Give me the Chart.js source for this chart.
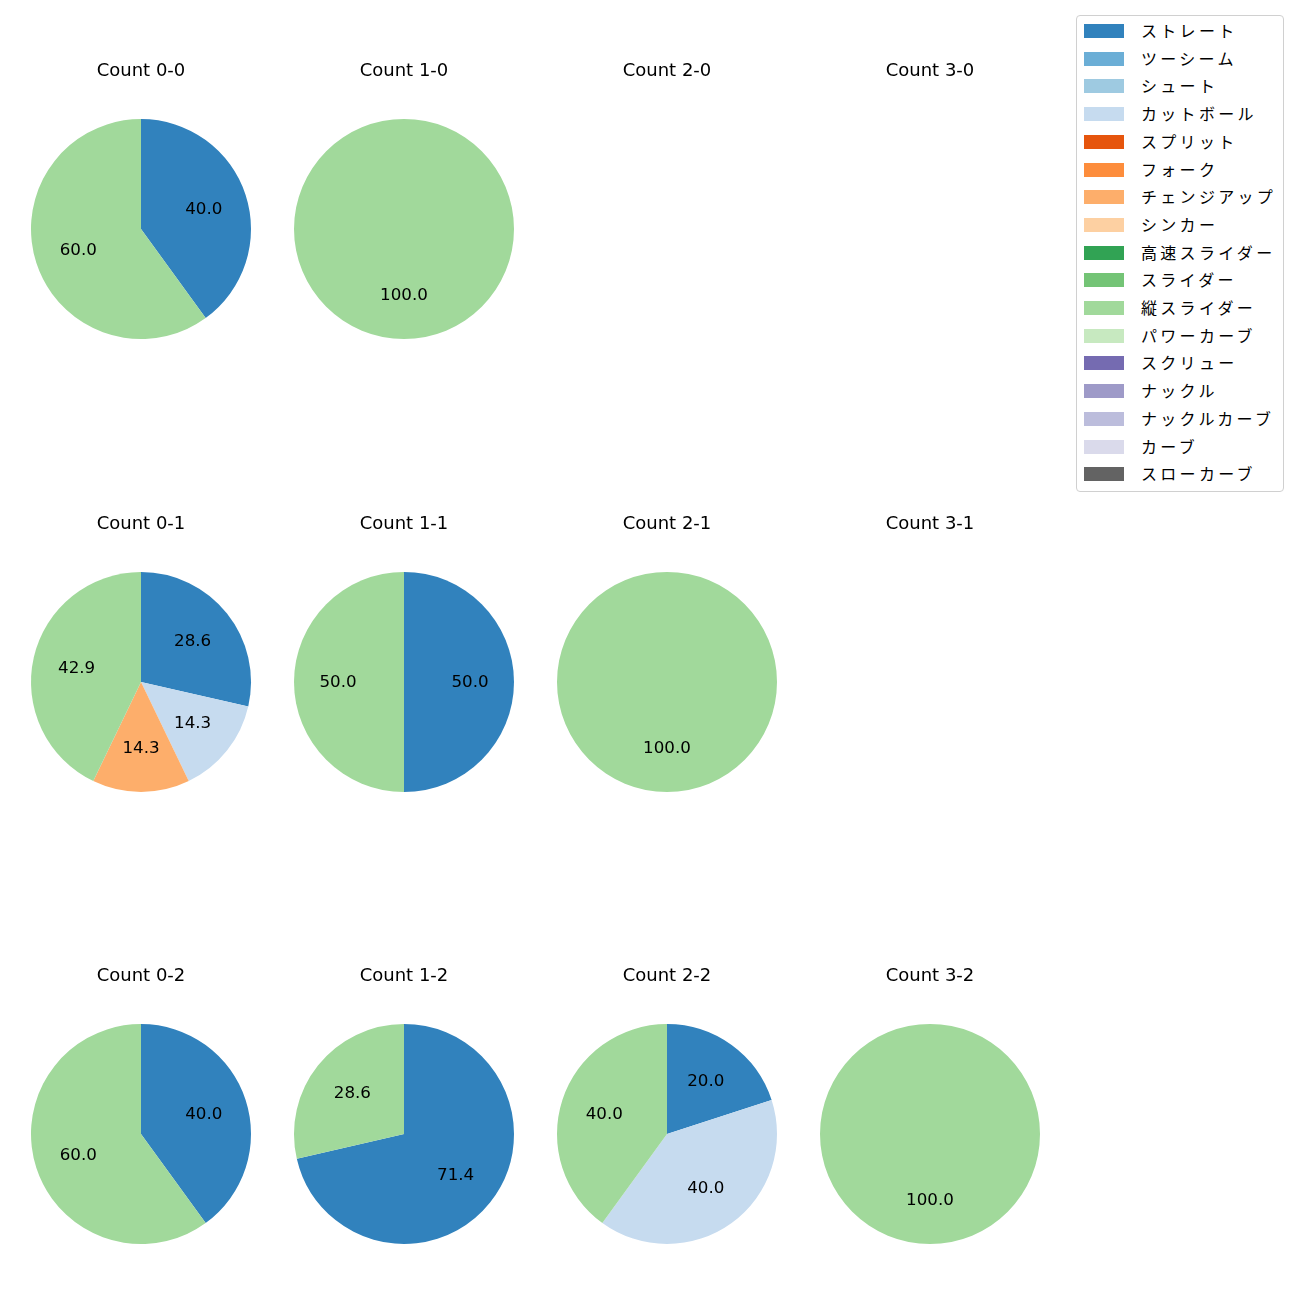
<!DOCTYPE html>
<html>
<head>
<meta charset="utf-8">
<script src="https://cdn.jsdelivr.net/npm/chart.js@4.4.1/dist/chart.umd.min.js"></script>
<style>
  html, body { margin: 0; padding: 0; background: #fff; }
  body { width: 1300px; height: 1300px; position: relative; overflow: hidden; font-family: "Noto Sans CJK JP", "Noto Sans", sans-serif; }
  .cell { position: absolute; width: 260px; height: 300px; }
  #legend { position: absolute; left: 1076px; top: 15px; width: 208px; height: 477px; border: 1px solid #d0d0d0; border-radius: 4px; box-sizing: border-box; }
  .item { position: absolute; left: 0; height: 20px; font-size: 16px; color: #000; white-space: nowrap; }
  .sw { position: absolute; left: 7px; top: 3px; width: 40px; height: 14px; }
  .tx { position: absolute; left: 64px; top: -1px; line-height: 20px; letter-spacing: 3.3px; }
</style>
</head>
<body>
<div id="legend"></div>
<script>
const pitchTypes = ["ストレート","ツーシーム","シュート","カットボール","スプリット","フォーク","チェンジアップ","シンカー","高速スライダー","スライダー","縦スライダー","パワーカーブ","スクリュー","ナックル","ナックルカーブ","カーブ","スローカーブ"];
const pitchColors = ["#3182bd","#6baed6","#9ecae1","#c6dbef","#e6550d","#fd8d3c","#fdae6b","#fdd0a2","#31a354","#74c476","#a1d99b","#c7e9c0","#756bb1","#9e9ac8","#bcbddc","#dadaeb","#636363"];

// percentage share per pitch type (same order as pitchTypes)
const count00 = [40,0,0,0,0,0,0,0,0,0,60,0,0,0,0,0,0];
const count10 = [0,0,0,0,0,0,0,0,0,0,100,0,0,0,0,0,0];
const count20 = [];
const count30 = [];
const count01 = [28.6,0,0,14.3,0,0,14.3,0,0,0,42.9,0,0,0,0,0,0];
const count11 = [50,0,0,0,0,0,0,0,0,0,50,0,0,0,0,0,0];
const count21 = [0,0,0,0,0,0,0,0,0,0,100,0,0,0,0,0,0];
const count31 = [];
const count02 = [40,0,0,0,0,0,0,0,0,0,60,0,0,0,0,0,0];
const count12 = [71.4,0,0,0,0,0,0,0,0,0,28.6,0,0,0,0,0,0];
const count22 = [20,0,0,40,0,0,0,0,0,0,40,0,0,0,0,0,0];
const count32 = [0,0,0,0,0,0,0,0,0,0,100,0,0,0,0,0,0];

const countTitles = ["Count 0-0","Count 1-0","Count 2-0","Count 3-0","Count 0-1","Count 1-1","Count 2-1","Count 3-1","Count 0-2","Count 1-2","Count 2-2","Count 3-2"];
const countData = [count00,count10,count20,count30,count01,count11,count21,count31,count02,count12,count22,count32];

const colX = [141, 404, 667, 930];
const rowY = [229, 682, 1134];

const pctLabels = {
  id: 'pctLabels',
  afterDatasetsDraw(chart) {
    const ctx = chart.ctx;
    const meta = chart.getDatasetMeta(0);
    const data = chart.data.datasets[0].data;
    const total = data.reduce((a, b) => a + b, 0);
    if (!total) return;
    ctx.save();
    ctx.font = '16.7px "DejaVu Sans", "Noto Sans", sans-serif';
    ctx.fillStyle = '#000';
    ctx.textAlign = 'center';
    ctx.textBaseline = 'middle';
    meta.data.forEach((arc, i) => {
      const v = data[i];
      if (!v) return;
      const p = arc.getProps(['x','y','startAngle','endAngle','outerRadius'], true);
      const mid = (p.startAngle + p.endAngle) / 2;
      const r = p.outerRadius * 0.6;
      ctx.fillText((v / total * 100).toFixed(1), p.x + Math.cos(mid) * r, p.y + Math.sin(mid) * r + 1);
    });
    ctx.restore();
  }
};

countTitles.forEach((title, idx) => {
  const c = idx % 4, r = Math.floor(idx / 4);
  const div = document.createElement('div');
  div.className = 'cell';
  div.style.left = (colX[c] - 130) + 'px';
  div.style.top = (rowY[r] - 180) + 'px';
  const cv = document.createElement('canvas');
  cv.width = 260;
  cv.height = 300;
  div.appendChild(cv);
  document.body.appendChild(div);
  const vals = countData[idx];
  new Chart(cv, {
    type: 'pie',
    data: {
      labels: vals.length ? pitchTypes : [],
      datasets: [{
        data: vals,
        backgroundColor: pitchColors,
        borderWidth: 0
      }]
    },
    options: {
      responsive: false,
      animation: false,
      events: [],
      layout: { padding: { top: 0, bottom: 10, left: 0, right: 0 } },
      plugins: {
        legend: { display: false },
        tooltip: { enabled: false },
        title: {
          display: true,
          text: title,
          color: '#000',
          font: { family: '"DejaVu Sans", "Noto Sans", sans-serif', size: 18, weight: 'normal', lineHeight: 1.2 },
          padding: { top: 11.2, bottom: 37.2 }
        }
      }
    },
    plugins: [pctLabels]
  });
});

// legend
const leg = document.getElementById('legend');
pitchTypes.forEach((name, i) => {
  const it = document.createElement('div');
  it.className = 'item';
  it.style.top = (5 + i * 27.7) + 'px';
  it.innerHTML = '<div class="sw" style="background:' + pitchColors[i] + '"></div><div class="tx">' + name + '</div>';
  leg.appendChild(it);
});
</script>
</body>
</html>
